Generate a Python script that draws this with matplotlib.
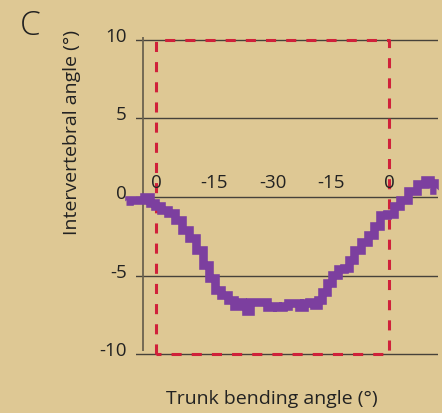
import matplotlib
matplotlib.use("Agg")
import matplotlib.pyplot as plt
import matplotlib.transforms as mtransforms

# phase along the bending cycle (0 -> -15 -> -30 -> -15 -> 0)
phase = [-0.52, -0.40, -0.28, -0.14, -0.05, 0.03, 0.15, 0.27, 0.38, 0.50,
         0.62, 0.74, 0.86, 0.96, 1.06, 1.18, 1.30, 1.39, 1.44, 1.51,
         1.58, 1.65, 1.75, 1.85, 1.95, 2.02, 2.13, 2.23, 2.31, 2.43,
         2.49, 2.57, 2.68, 2.74, 2.81, 2.90, 2.98, 3.07, 3.17, 3.28,
         3.34, 3.45, 3.57, 3.69, 3.79, 3.91, 4.03, 4.13, 4.25, 4.39,
         4.55, 4.67, 4.74, 4.80]
angle = [-0.25, -0.19, -0.19, 0.0, -0.38, -0.57, -0.83, -1.02, -1.46, -2.10,
         -2.61, -3.38, -4.33, -5.16, -5.92, -6.24, -6.56, -6.94, -6.69, -6.82,
         -7.26, -6.69, -6.69, -6.69, -7.0, -6.94, -7.0, -6.94, -6.75, -6.75,
         -7.0, -6.75, -6.69, -6.88, -6.56, -6.05, -5.48, -4.97, -4.59, -4.52,
         -4.01, -3.38, -2.87, -2.42, -1.85, -1.15, -1.08, -0.57, -0.19, 0.38,
         0.83, 1.08, 0.89, 0.45]

tick_pos = [0, 1, 2, 3, 4]
tick_labels = ["0", "-15", "-30", "-15", "0"]
y_ticks = [-10, -5, 0, 5, 10]

bg = "#DEC894"
purple = "#7C3F9F"
red = "#D0213A"
grid_c = "#46423a"

plt.rcParams["font.family"] = ["Open Sans", "DejaVu Sans"]

fig = plt.figure(figsize=(4.42, 4.13), dpi=100, facecolor=bg)
ax = fig.add_axes([0.3077, 0.1237, 0.6833, 0.7986])
ax.set_facecolor(bg)
ax.set_xlim(-0.343, 4.837)
ax.set_ylim(-10.5, 10.5)

for s in ax.spines.values():
    s.set_visible(False)

ax.set_yticks(y_ticks)
ax.set_yticklabels([str(v) for v in y_ticks], fontsize=13.5, color="#222222")
ax.tick_params(axis="y", length=0, pad=6.5)
ax.set_xticks([])
off = mtransforms.ScaledTranslation(0, 5 / 100, fig.dpi_scale_trans)
for lab in ax.get_yticklabels():
    lab.set_transform(lab.get_transform() + off)
ax.yaxis.grid(True, color=grid_c, linewidth=1.0)
ax.set_axisbelow(True)

# y axis line
ax.vlines(-0.223, -9.8, 10.2, color="#6b6350", linewidth=1.3)

# red dashed frame
ax.plot([0, 0, 4, 4, 0], [-10, 10, 10, -10, -10], color=red, linewidth=2.2,
        linestyle=(0, (3.3, 3.3)), zorder=3)

ax.plot(phase, angle, color=purple, linewidth=6.2, drawstyle="steps-mid",
        solid_joinstyle="miter", solid_capstyle="butt", clip_on=False, zorder=4)

for p, t in zip(tick_pos, tick_labels):
    ax.text(p, 0.9, t, ha="center", va="center", fontsize=13.5, color="#222222")

fig.text(0.163, 0.68, "Intervertebral angle (°)", rotation=90, ha="center",
         va="center", fontsize=14, color="#222222")
fig.text(0.615, 0.034, "Trunk bending angle (°)", ha="center", va="center",
         fontsize=14, color="#222222")
fig.text(0.045, 0.937, "C", ha="left", va="center", fontsize=24,
         fontweight="light", color="#222222")

fig.savefig("out.png", dpi=100, facecolor=bg)
